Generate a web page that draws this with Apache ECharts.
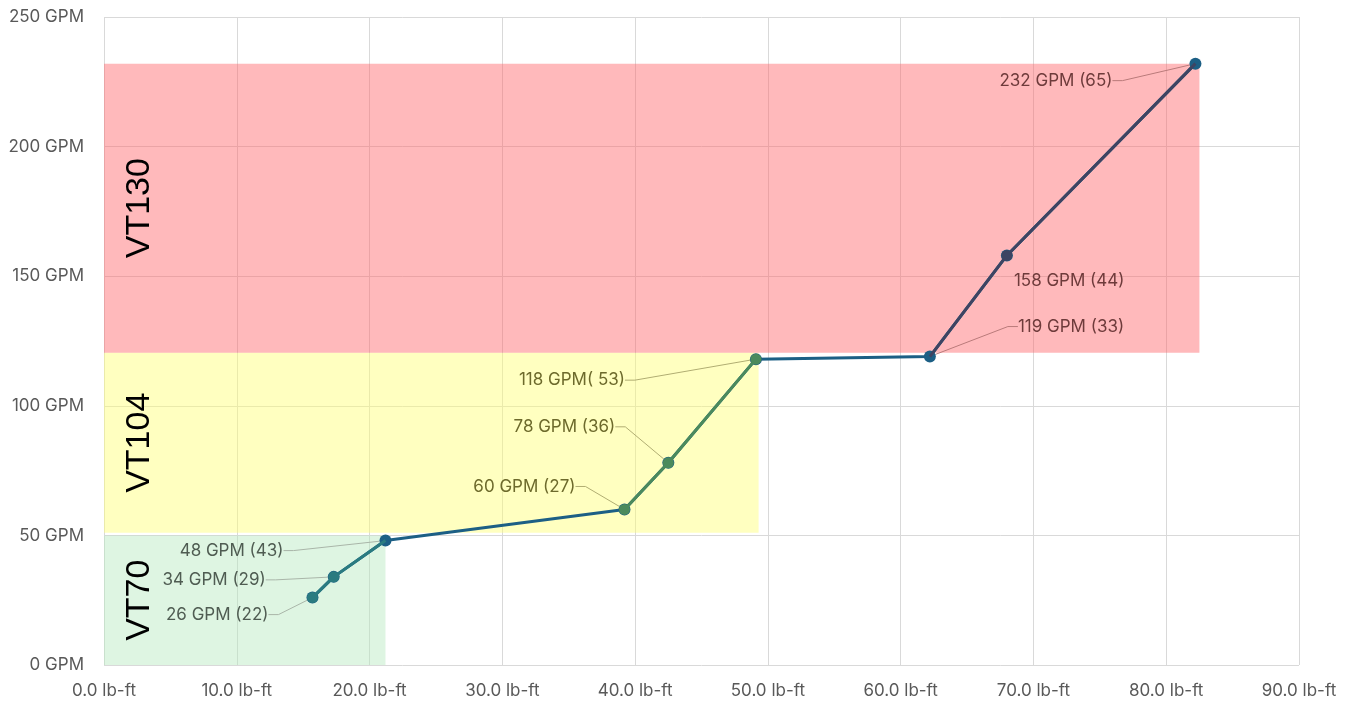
<!DOCTYPE html>
<html>
<head>
<meta charset="utf-8">
<script src="https://cdn.jsdelivr.net/npm/echarts@6/dist/echarts.min.js"></script>
<style>html,body{margin:0;padding:0;background:#fff}#c{width:1352px;height:707px}</style>
</head>
<body>
<div id="c"></div>
<script>
// ---- data ----
const xTickValues = [0, 10, 20, 30, 40, 50, 60, 70, 80, 90];
const yTickValues = [0, 50, 100, 150, 200, 250];
const torque = [15.7, 17.3, 21.2, 39.2, 42.5, 49.1, 62.2, 68.0, 82.2];
const flow = [26, 34, 48, 60, 78, 118, 119, 158, 232];
const pointLabels = ['26 GPM (22)', '34 GPM (29)', '48 GPM (43)', '60 GPM (27)', '78 GPM (36)',
  '118 GPM( 53)', '119 GPM (33)', '158 GPM (44)', '232 GPM (65)'];
const pointGroup = [0, 0, 0, 1, 1, 1, 2, 2, 2];
const bandNames = ['VT70', 'VT104', 'VT130'];
const bandXMax = [21.2, 49.3, 82.5];
const bandYMin = [0, 51, 120.5];
const bandYMax = [50, 120.5, 232];

// ---- styles ----
const groupLine = ['#2a7b80', '#4b8a5c', '#3e4462'];
const groupText = ['#4f5c52', '#6d6a2c', '#6e3b3b'];
const groupLeader = ['#a9b5a8', '#b0ad72', '#b97a7a'];
const bandFill = ['rgba(182,233,191,0.45)', 'rgba(255,255,115,0.45)', 'rgba(255,99,104,0.45)'];
// label offsets from point: [dx, dy, align, showLeader]
const labelOffsets = [
  [-44, 17, 'right', true],
  [-68, 3, 'right', true],
  [-102, 10, 'right', true],
  [-49, -23, 'right', true],
  [-53, -36, 'right', true],
  [-131, 21, 'right', true],
  [88, -30, 'left', true],
  [7, 25, 'left', false],
  [-83, 17, 'right', true]
];

const baseData = torque.map((t, i) => ({
  value: [t, flow[i]],
  label: {
    show: true,
    formatter: pointLabels[i],
    color: groupText[pointGroup[i]]
  },
  labelLine: {
    show: labelOffsets[i][3],
    length2: 10,
    lineStyle: { color: groupLeader[pointGroup[i]], width: 1 }
  }
}));

function groupData(g, hideEnds) {
  const out = [];
  torque.forEach((t, i) => {
    if (pointGroup[i] !== g) return;
    const item = { value: [t, flow[i]] };
    if (hideEnds.indexOf(i) >= 0) item.symbol = 'none';
    out.push(item);
  });
  return out;
}

const markAreaData = bandNames.map((n, i) => ([
  { name: n, xAxis: 0, yAxis: bandYMin[i], itemStyle: { color: bandFill[i] } },
  { xAxis: bandXMax[i], yAxis: bandYMax[i] }
]));

const chart = echarts.init(document.getElementById('c'), null, { renderer: 'canvas' });
const axisLabelStyle = { color: '#595959', fontSize: 17, fontFamily: 'Inter' };
chart.setOption({
  animation: false,
  grid: { left: 104, right: 53, top: 17, bottom: 42 },
  xAxis: {
    type: 'value', min: 0, max: 90, interval: 10,
    axisLine: { show: false }, axisTick: { show: false },
    splitLine: { show: true, lineStyle: { color: '#d9d9d9', width: 1 } },
    axisLabel: Object.assign({ margin: 17, formatter: v => v.toFixed(1) + ' lb-ft' }, axisLabelStyle)
  },
  yAxis: {
    type: 'value', min: 0, max: 250, interval: 50,
    axisLine: { show: false }, axisTick: { show: false },
    splitLine: { show: true, lineStyle: { color: '#d9d9d9', width: 1 } },
    axisLabel: Object.assign({ margin: 20, formatter: v => v + ' GPM' }, axisLabelStyle)
  },
  series: [
    {
      type: 'line', name: 'bands', data: [], silent: true,
      markArea: {
        silent: true,
        label: {
          show: true, position: 'insideLeft', rotate: 90, align: 'center', verticalAlign: 'middle',
          offset: [0, 31], fontSize: 34, color: '#000', fontFamily: 'Liberation Sans'
        },
        data: markAreaData
      }
    },
    {
      type: 'line', name: 'all', data: baseData,
      symbol: 'circle', symbolSize: 12, showSymbol: true,
      lineStyle: { color: '#1c5f85', width: 3 },
      itemStyle: { color: '#1c5f85' },
      label: { fontSize: 17, fontFamily: 'Inter' },
      labelLayout: function (p) {
        const o = labelOffsets[p.dataIndex];
        const cx = p.rect.x + p.rect.width / 2;
        const cy = p.rect.y + p.rect.height / 2;
        return { x: cx + o[0], y: cy + o[1], align: o[2], verticalAlign: 'middle' };
      },
      emphasis: { disabled: true }, z: 3
    },
    {
      type: 'line', name: 'VT70', data: groupData(0, [2]),
      symbol: 'circle', symbolSize: 11,
      lineStyle: { color: groupLine[0], width: 3 }, itemStyle: { color: groupLine[0] },
      emphasis: { disabled: true }, z: 4
    },
    {
      type: 'line', name: 'VT104', data: groupData(1, []),
      symbol: 'circle', symbolSize: 11,
      lineStyle: { color: groupLine[1], width: 3 }, itemStyle: { color: groupLine[1] },
      emphasis: { disabled: true }, z: 4
    },
    {
      type: 'line', name: 'VT130', data: groupData(2, [6, 8]),
      symbol: 'circle', symbolSize: 11,
      lineStyle: { color: groupLine[2], width: 3 }, itemStyle: { color: groupLine[2] },
      emphasis: { disabled: true }, z: 4
    }
  ]
});
</script>
</body>
</html>
